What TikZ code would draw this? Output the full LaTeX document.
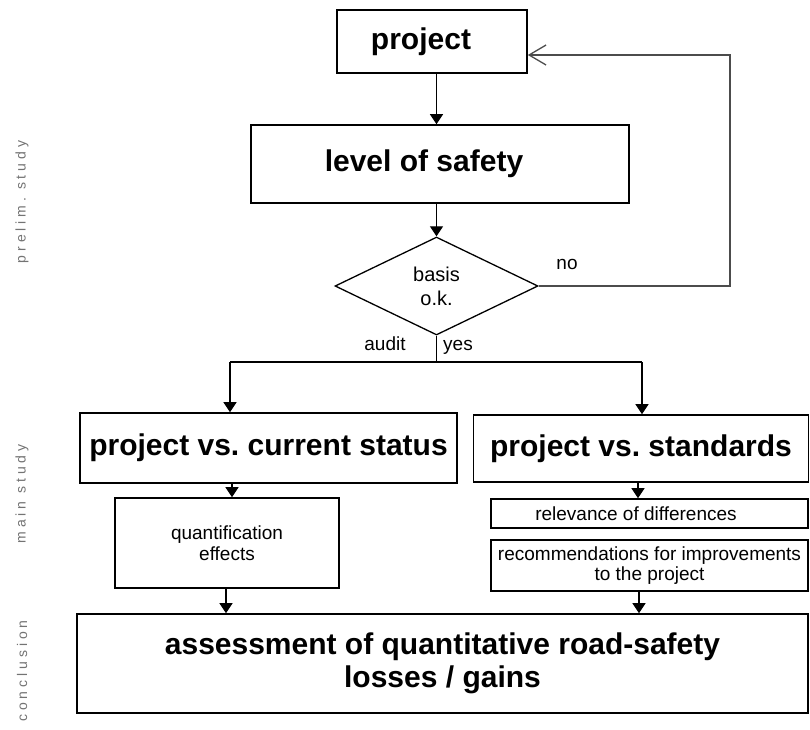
\documentclass[tikz,border=0pt]{standalone}
\usepackage{fontspec}
\setmainfont{Liberation Sans}
\newfontfamily\sidefont[LetterSpace=28]{Liberation Sans}
\usetikzlibrary{arrows.meta,shapes.geometric}
\frenchspacing
\begin{document}
\begin{tikzpicture}[x=1pt,y=-1pt,
  box/.style={draw, line width=1.6pt, inner sep=0pt, align=center},
  big/.style={font=\fontsize{30}{33}\selectfont\bfseries},
  small/.style={font=\fontsize{19}{21}\selectfont},
  lbl/.style={font=\fontsize{19}{21}\selectfont},
  arr/.style={line width=1.2pt, -{Triangle[width=13pt,length=10pt]}},
  conn/.style={line width=1.2pt},
  side/.style={rotate=90, text=black!55, font=\fontsize{14}{16}\selectfont\sidefont}]
\useasboundingbox (0,0) rectangle (810,729);

% boxes
\node[box, big, minimum width=190pt, minimum height=63pt] (project) at (432,41.5) {\hbox{project\kern22pt}};
\node[box, big, minimum width=378pt, minimum height=78pt] (lvl) at (440,164) {\hbox{level of safety\kern32pt}};
\node[draw, diamond, line width=1.3pt, minimum width=203pt, minimum height=98pt, inner sep=0pt, align=center, font=\fontsize{20}{24}\selectfont] (dia) at (436.5,286) {basis\\o.k.};
\node[box, big, minimum width=377pt, minimum height=70pt] (lbox) at (268.5,448) {project vs. current status};
\node[box, big, minimum width=335pt, minimum height=67pt] (rbox) at (641,448.5) {project vs. standards};
\node[box, small, minimum width=224pt, minimum height=90pt] (quant) at (227,543) {quantification\\effects};
\node[box, small, minimum width=317pt, minimum height=29pt] (rel) at (649.5,513.5) {\hbox{relevance of differences\kern27pt}};
\node[box, font=\fontsize{19}{19.5}\selectfont, minimum width=317pt, minimum height=51pt] (rec) at (649.5,565.5) {recommendations for improvements\\to the project};
\node[box, big, minimum width=731pt, minimum height=99pt] (final) at (442.5,663.5) {assessment of quantitative road-safety\\losses / gains};

% labels
\node[lbl] (no) at (567,264) {no};
\node[lbl] (audit) at (385,344) {audit};
\node[lbl] (yes) at (458,347) {yes};

% side labels
\node[side] (s1) at (22,202) {prelim. study};
\node[side] (s2) at (22,494) {main study};
\node[side] (s3) at (22,671) {conclusion};

% helper coordinates
\coordinate (loop) at (730,55);
\coordinate (split) at (436.5,362);
\coordinate (sl) at (230,362);
\coordinate (sr) at (642,362);
\coordinate (xq) at (232,0);
\coordinate (xr) at (638,0);
\coordinate (xf1) at (226,0);
\coordinate (xf2) at (639,0);

% connectors
\draw[arr] (project.south -| dia.north) -- (lvl.north -| dia.north);
\draw[arr] (lvl.south -| dia.north) -- (dia.north);
\draw[line width=1.3pt, black!70, -{Straight Barb[length=17pt,width=20pt]}] (dia.east) -| (loop) -- (loop -| project.east);
\draw[conn] (dia.south) -- (split);
\draw[conn] (sl) -- (sr);
\draw[arr] (sl) -- (sl |- lbox.north);
\draw[arr] (sr) -- (sr |- rbox.north);
\draw[arr] (lbox.south -| xq) -- (quant.north -| xq);
\draw[arr] (rbox.south -| xr) -- (rel.north -| xr);
\draw[arr] (quant.south -| xf1) -- (final.north -| xf1);
\draw[arr] (rec.south -| xf2) -- (final.north -| xf2);
\end{tikzpicture}
\end{document}
